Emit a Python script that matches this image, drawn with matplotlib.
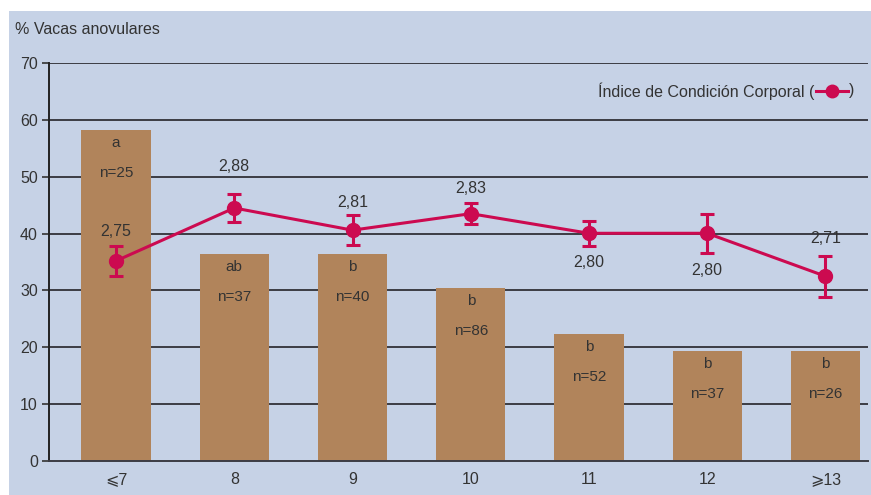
import matplotlib
matplotlib.use("Agg")
import matplotlib.pyplot as plt
from matplotlib.patches import Rectangle
from matplotlib.lines import Line2D

plt.rcParams['font.family'] = ['Liberation Sans Narrow', 'Liberation Sans', 'DejaVu Sans']

categories = ['⩽7', '8', '9', '10', '11', '12', '⩾13']
anovular_pct = [58.2, 36.4, 36.4, 30.4, 22.3, 19.3, 19.3]
letters = ['a', 'ab', 'b', 'b', 'b', 'b', 'b']
n_labels = ['n=25', 'n=37', 'n=40', 'n=86', 'n=52', 'n=37', 'n=26']
icc_y = [35.2, 44.5, 40.6, 43.5, 40.05, 40.05, 32.5]
icc_err = [2.6, 2.4, 2.6, 1.8, 2.2, 3.4, 3.6]
icc_labels = ['2,75', '2,88', '2,81', '2,83', '2,80', '2,80', '2,71']
yticks = [0, 10, 20, 30, 40, 50, 60, 70]

# label offsets in points (style)
icc_label_dy = [21, 30, 20, 18, -21, -27, 27]

BG = '#c6d2e6'
BAR = '#b1845b'
LINE = '#cc0a50'
TXT = '#333333'

fig = plt.figure(figsize=(8.71, 4.95), dpi=100)
fig.patch.set_facecolor('white')
fig.patches.append(Rectangle((9/871, 0), 1 - 9/871, 1 - 11/495,
                             transform=fig.transFigure, facecolor=BG,
                             edgecolor='none', zorder=-5))

ax = fig.add_axes([49/871, 1 - 461/495, (868 - 49)/871, (461 - 63)/495])
ax.set_zorder(2)
ax.set_facecolor('none')
x = list(range(len(categories)))

ax.bar(x, anovular_pct, width=0.585, color=BAR, zorder=2)
for yv in yticks[1:]:
    ax.axhline(yv, color='#3c3c44', lw=1.4, zorder=1)

ax.errorbar(x, icc_y, yerr=icc_err, color=LINE, lw=2.2, marker='o',
            markersize=10, capsize=5, capthick=2.2, elinewidth=2.2, zorder=4)

for i in x:
    ax.annotate(letters[i], (i, anovular_pct[i]), xytext=(0, -9),
                textcoords='offset points', ha='center', va='center',
                fontsize=11, color=TXT, zorder=5)
    ax.annotate(n_labels[i], (i, anovular_pct[i]), xytext=(0, -31),
                textcoords='offset points', ha='center', va='center',
                fontsize=11, color=TXT, zorder=5)
    ax.annotate(icc_labels[i], (i, icc_y[i]), xytext=(0, icc_label_dy[i]),
                textcoords='offset points', ha='center', va='center',
                fontsize=11.5, color=TXT, zorder=5)

ax.set_xlim(-0.567, 6.36)
ax.set_ylim(0, 70)
ax.set_yticks(yticks)
ax.set_xticks(x)
ax.set_xticklabels(categories)
ax.tick_params(axis='x', length=0, pad=8, labelsize=11.5, colors=TXT)
ax.tick_params(axis='y', length=5, width=1.2, pad=3, labelsize=11.5, colors=TXT)
for s in ['top', 'right']:
    ax.spines[s].set_visible(False)
ax.spines['left'].set_color('#222222')
ax.spines['left'].set_linewidth(1.4)
ax.spines['bottom'].set_color('#3c3c44')
ax.spines['bottom'].set_linewidth(1.4)

fig.text(15/871, 1 - 30/495, '% Vacas anovulares', ha='left', va='center',
         fontsize=11.5, color=TXT)

# legend
fig.text(814/871, 1 - 91/495, 'Índice de Condición Corporal (', ha='right',
         va='center', fontsize=11.5, color=TXT)
fig.text(849/871, 1 - 91/495, ')', ha='left', va='center', fontsize=11.5, color=TXT)
fig.lines.append(Line2D([816/871, 848/871], [1 - 91/495, 1 - 91/495],
                        transform=fig.transFigure, color=LINE, lw=2.2))
fig.lines.append(Line2D([832/871], [1 - 91/495], transform=fig.transFigure,
                        color=LINE, marker='o', markersize=9))

fig.savefig('out.png', dpi=100, facecolor='white')
